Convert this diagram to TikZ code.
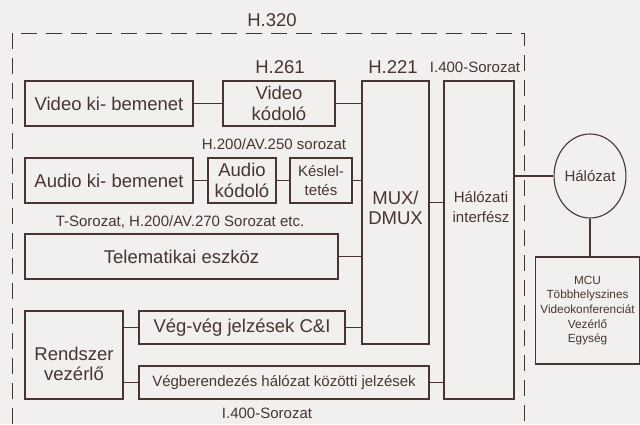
\documentclass[tikz,border=0pt]{standalone}
\usepackage{fontspec}
\setmainfont{Liberation Sans}
\usetikzlibrary{shapes.geometric}
\definecolor{ink}{RGB}{72,52,48}
\definecolor{paper}{RGB}{241,240,238}
\newcommand{\bigtxt}{\fontsize{18.5}{20.5}\selectfont}
\newcommand{\midtxt}{\fontsize{15}{19.5}\selectfont}
\newcommand{\mcutxt}{\fontsize{11.8}{14.7}\selectfont}

\begin{document}
\begin{tikzpicture}[x=1pt,y=-1pt,
  every node/.style={text=ink},
  box/.style={draw=ink,line width=1.1pt,inner sep=0pt,align=center,font=\bigtxt},
  link/.style={draw=ink,line width=1.1pt}
]
\fill[paper,use as bounding box] (0,0) rectangle (640,424);

% H.320 frame
\draw[ink,line width=1pt,dash pattern=on 16pt off 9pt] (12,424) -- (12,33) -- (524,33) -- (524,424);
\node[font=\bigtxt] (h320) at (272,20) {H.320};

\node[box,minimum width=168pt,minimum height=45pt] (vio) at (109,103.5) {Video ki- bemenet};
\node[box,minimum width=112pt,minimum height=45pt] (vcod) at (279,103.5) {Video\\kódoló};
\node[box,minimum width=168pt,minimum height=45pt] (aio) at (109,180.5) {Audio ki- bemenet};
\node[box,minimum width=68pt,minimum height=45pt] (acod) at (242,180.5) {Audio\\kódoló};
\node[box,minimum width=62pt,minimum height=45pt,font=\midtxt] (kes) at (321,180.5) {Késlel-\\tetés};
\node[box,minimum width=313pt,minimum height=45pt] (tel) at (181.5,256.5) {Telematikai eszköz};
\node[box,minimum width=98pt,minimum height=88pt] (rend) at (74,355) {};
\node[box,minimum width=206pt,minimum height=33pt] (veg) at (242,327.5) {Vég-vég jelzések C\&I};
\node[box,minimum width=290pt,minimum height=33pt,font=\midtxt] (vegb) at (284,382.5) {Végberendezés hálózat közötti jelzések};
\node[box,minimum width=67pt,minimum height=263pt] (mux) at (395.5,212.5) {};
\node[box,minimum width=70pt,minimum height=318pt] (hi) at (479,240) {};
\node[box,ellipse,minimum width=62pt,minimum height=84pt,font=\midtxt] (hal) at (590,176) {Hálózat};
\node[box,minimum width=104pt,minimum height=107pt,font=\mcutxt] (mcu) at (587.5,310.5) {MCU\\Többhelyszines\\Videokonferenciát\\Vezérlő\\Egység};

% texts in the tall boxes
\node[font=\bigtxt,align=center] (rendtxt) at (74,364) {Rendszer\\vezérlő};
\node[font=\bigtxt,align=center] (muxtxt) at (395.5,208) {MUX/\\DMUX};
\node[font=\midtxt,align=center] (hitxt) at (481,207) {Hálózati\\interfész};

% standards
\node[font=\bigtxt] (h261) at (280,67) {H.261};
\node[font=\bigtxt] (h221) at (393,67) {H.221};
\node[font=\midtxt] (i400a) at (475,67) {I.400-Sorozat};
\node[font=\midtxt] (h200) at (274,144) {H.200/AV.250 sorozat};
\node[font=\midtxt] (tser) at (180,222) {T-Sorozat, H.200/AV.270 Sorozat etc.};
\node[font=\midtxt] (i400b) at (267,413) {I.400-Sorozat};

\draw[link] (vio) -- (vcod);
\draw[link] (vcod.east) -- (vcod.east -| mux.west);
\draw[link] (aio) -- (acod);
\draw[link] (acod) -- (kes);
\draw[link] (kes.east) -- (kes.east -| mux.west);
\draw[link] (tel.east) -- (tel.east -| mux.west);
\draw[link] (veg.east) -- (veg.east -| mux.west);
\draw[link] (rend.east |- veg.west) -- (veg.west);
\draw[link] (rend.east |- vegb.west) -- (vegb.west);
\draw[link] ([yshift=10pt]mux.east) -- ([yshift=10pt]mux.east -| hi.west);
\draw[link] (vegb.east) -- (vegb.east -| hi.west);
\draw[link] (hi.east |- hal.west) -- (hal.west);
\draw[link] (hal.south) -- (hal.south |- mcu.north);
\end{tikzpicture}
\end{document}
